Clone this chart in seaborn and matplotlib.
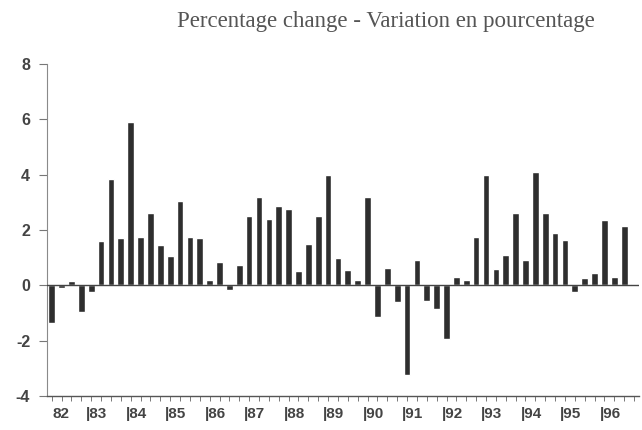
import numpy as np
import pandas as pd
import matplotlib
matplotlib.use('Agg')
import matplotlib.pyplot as plt
import seaborn as sns

# Quarterly percentage change, 1982 Q1 - 1996 Q4
years = ['82', '83', '84', '85', '86', '87', '88', '89', '90', '91', '92', '93', '94', '95', '96']
quarters = ['Q1', 'Q2', 'Q3', 'Q4']
values = [-1.35, -0.1, 0.15, -0.95,
          -0.25, 1.6, 3.85, 1.7,
          5.9, 1.75, 2.6, 1.45,
          1.05, 3.05, 1.75, 1.7,
          0.2, 0.85, -0.18, 0.75,
          2.5, 3.2, 2.4, 2.85,
          2.75, 0.5, 1.5, 2.5,
          4.0, 1.0, 0.55, 0.2,
          3.2, -1.15, 0.62, -0.6,
          -3.25, 0.9, -0.55, -0.85,
          -1.95, 0.3, 0.2, 1.75,
          4.0, 0.6, 1.1, 2.6,
          0.9, 4.1, 2.6, 1.9,
          1.65, -0.25, 0.25, 0.45,
          2.35, 0.3, 2.15, 0.05]
y_ticks = [-4, -2, 0, 2, 4, 6, 8]
title = 'Percentage change - Variation en pourcentage'

df = pd.DataFrame({
    'period': [y + q for y in years for q in quarters],
    'value': values,
})

sns.set_style('white')
plt.rcParams['font.family'] = ['Liberation Sans', 'DejaVu Sans']

fig = plt.figure(figsize=(6.42, 4.30), dpi=100)
ax = fig.add_axes([0.0729, 0.0791, 0.9224, 0.7721])

sns.barplot(data=df, x='period', y='value', color='#2e2e2e', saturation=1,
            width=0.68, ax=ax)
ax.axhline(0, color='#444444', lw=1.0, zorder=3)

ax.set_xlim(-0.5, len(values) - 0.5)
ax.set_ylim(-4, 8)
ax.set_yticks(y_ticks)
ax.set_yticklabels([str(t) for t in y_ticks], fontsize=11.5, fontweight='bold', color='#444444')
ax.tick_params(axis='y', direction='out', length=6, width=0.8, color='#777777', pad=6, left=True)

# year labels with separators, quarter ticks as minor ticks
label_pos = [0.1] + [4 * k - 0.5 for k in range(1, len(years))]
labels = [years[0]] + ['|' + y for y in years[1:]]
ax.set_xticks(label_pos)
ax.set_xticklabels(labels, fontsize=11, fontweight='bold', color='#444444', ha='left')
ax.set_xticks(np.arange(len(values)), minor=True)
ax.tick_params(axis='x', which='major', length=0, pad=8)
ax.tick_params(axis='x', which='minor', direction='out', length=3.5, width=0.7,
               color='#777777', bottom=True)

ax.set_xlabel('')
ax.set_ylabel('')
sns.despine(ax=ax)
ax.spines['left'].set_color('#8a8a8a')
ax.spines['left'].set_linewidth(0.8)
ax.spines['bottom'].set_color('#555555')
ax.spines['bottom'].set_linewidth(1.0)

fig.text(0.601, 0.949, title, ha='center', va='center', fontsize=16.5,
         family=['Liberation Serif', 'DejaVu Serif'], color='#555555')

fig.savefig('out.png', dpi=100)
